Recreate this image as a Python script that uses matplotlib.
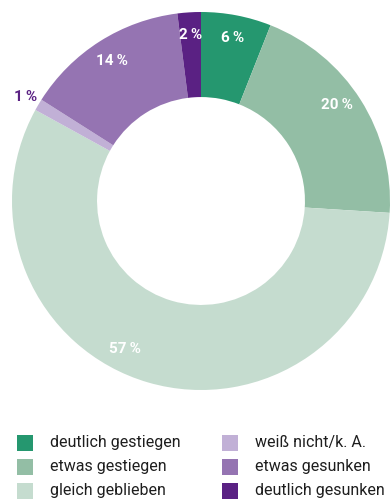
import matplotlib
matplotlib.use("Agg")
import matplotlib.pyplot as plt
import numpy as np

categories = ["deutlich gestiegen", "etwas gestiegen", "gleich geblieben",
              "weiß nicht/k. A.", "etwas gesunken", "deutlich gesunken"]
values = [6, 20, 57, 1, 14, 2]
colors = ["#25976f", "#93bea5", "#c5dccf", "#c1b0d6", "#9574b2", "#5a2183"]

plt.rcParams["font.family"] = ["Roboto", "DejaVu Sans"]

fig = plt.figure(figsize=(3.9, 5.01), dpi=100)
ax = fig.add_axes([12 / 390, 111 / 501, 378 / 390, 378 / 501])

wedges, _ = ax.pie(values, colors=colors, startangle=90, counterclock=False,
                   radius=1.0, wedgeprops=dict(width=0.45, linewidth=0))
ax.set_xlim(-1, 1)
ax.set_ylim(-1, 1)
ax.set_aspect("equal")
ax.axis("off")

# percentage labels: inside the ring, except the tiny slice which sits outside
total = sum(values)
cum = np.cumsum([0] + values[:-1])
angle_shift = [0, -3, 11, 0, 0, 0]
for i, v in enumerate(values):
    mid = (cum[i] + v / 2) / total * 360 + angle_shift[i]
    theta = np.deg2rad(90 - mid)
    if v < 2:
        r, col = 1.08, "#5a2183"
    else:
        r, col = 0.88, "white"
    ax.text(r * np.cos(theta), r * np.sin(theta), f"{v}\u2009%", color=col,
            fontsize=11, fontweight="bold", ha="center", va="center")

# legend in two columns below the ring
for i, (cat, colr) in enumerate(zip(categories, colors)):
    col, row = divmod(i, 3)
    x0 = 17 if col == 0 else 222
    yc = 443 + row * 24
    fig.patches.append(plt.Rectangle((x0 / 390, 1 - (yc + 8) / 501), 16 / 390, 16 / 501,
                                     transform=fig.transFigure, color=colr, linewidth=0))
    fig.text((x0 + 33) / 390, 1 - yc / 501, cat, fontsize=11.5, color="#1e1e1e",
             ha="left", va="center")

fig.savefig("out.png", dpi=100)
